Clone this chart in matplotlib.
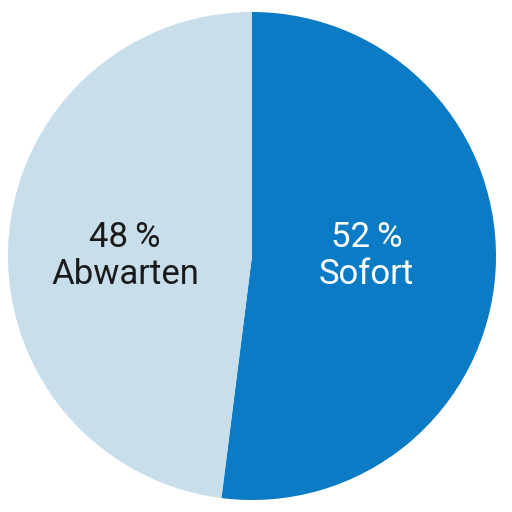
import matplotlib.pyplot as plt

labels = ["52\u2009%\nSofort", "48\u2009%\nAbwarten"]
shares = [52, 48]
colors = ["#0a7bc4", "#c8dfeb"]
text_colors = ["white", "#1a1a1a"]

fig = plt.figure(figsize=(5.12, 5.12), dpi=100)
ax = fig.add_axes([0, 0, 1, 1])
wedges, _ = ax.pie(shares, colors=colors, startangle=90, counterclock=False,
                   radius=1.0, wedgeprops={"linewidth": 0})
ax.set_xlim(-252 / 244, 260 / 244)
ax.set_ylim(-256 / 244, 256 / 244)
ax.set_aspect("equal")
ax.axis("off")

label_x = [0.47, -0.52]
for x, lab, tc in zip(label_x, labels, text_colors):
    ax.text(x, 0.0, lab, ha="center", va="center", fontsize=25,
            color=tc, linespacing=1.15, family="Roboto")

fig.savefig("out.png", dpi=100)
